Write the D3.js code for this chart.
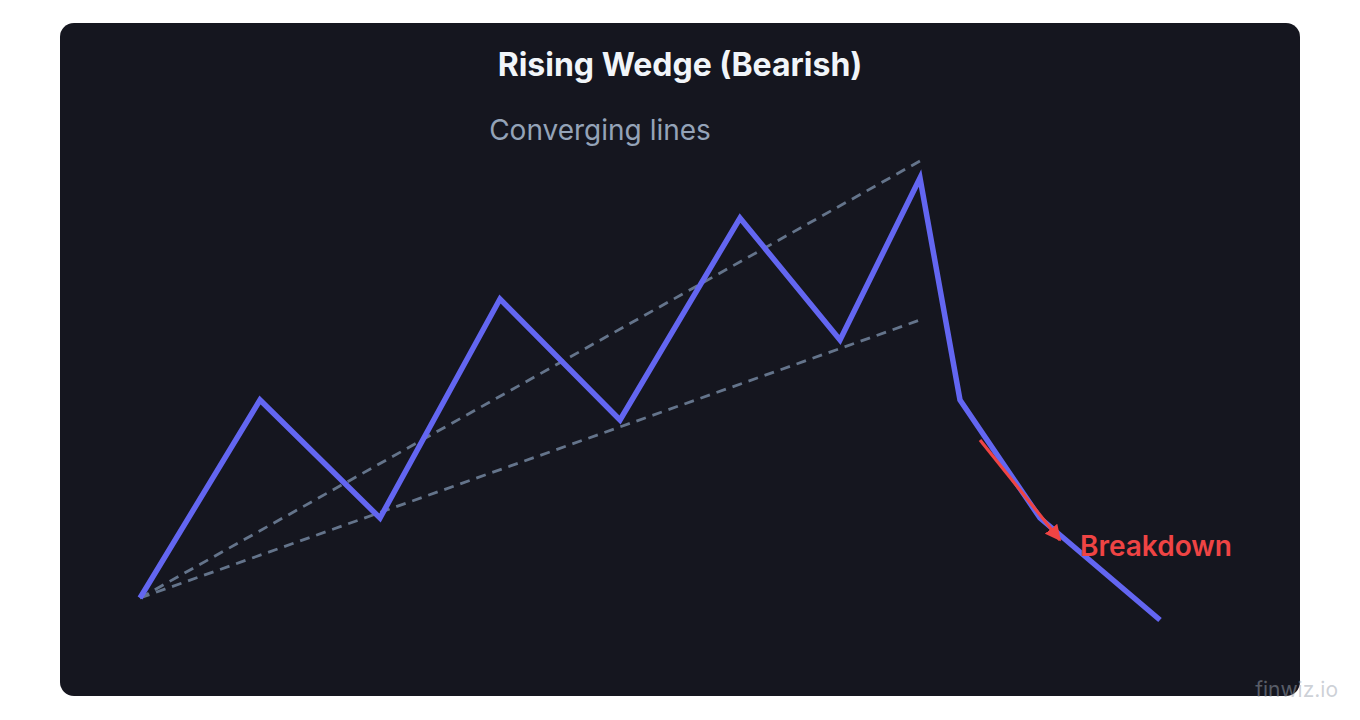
<!DOCTYPE html>
<html>
<head>
<meta charset="utf-8">
<script src="https://cdn.jsdelivr.net/npm/d3@7"></script>
<style>
  html, body { margin: 0; padding: 0; background: #ffffff; }
  svg { display: block; font-family: Inter, "Noto Sans", sans-serif; }
</style>
</head>
<body>
<script>
// price path (time, price)
var times  = [0, 12, 24, 36, 48, 60, 70, 78, 82, 90, 102];
var prices = [8, 47.6, 24, 67.8, 43.6, 84, 59.6, 92, 47.6, 24, 3.6];

// wedge trendlines: [t0, p0, t1, p1]
var upperLine = [0, 8, 78, 95.4];
var lowerLine = [0, 8, 78, 63.6];

// breakdown arrow
var arrowFrom = [84, 39.6];
var arrowTo   = [92, 19.6];

var title = "Rising Wedge (Bearish)";
var noteText = "Converging lines";
var breakText = "Breakdown";

var width = 1360,
    height = 720,
    panelX = 60,
    panelY = 23,
    panelW = 1240,
    panelH = 673
;

var svg = d3.select("body").append("svg")
    .attr("width", width)
    .attr("height", height)
;

svg.append("defs").append("marker")
    .attr("id", "arrow")
    .attr("viewBox", "0 0 10 10")
    .attr("refX", 9)
    .attr("refY", 5)
    .attr("markerWidth", 5)
    .attr("markerHeight", 5)
    .attr("markerUnits", "strokeWidth")
    .attr("orient", "auto")
    .append("path")
    .attr("d", "M0,0 L10,5 L0,10 Z")
    .attr("fill", "#ef4444")
;

// panel
svg.append("rect")
    .attr("x", panelX)
    .attr("y", panelY)
    .attr("width", panelW)
    .attr("height", panelH)
    .attr("rx", 14)
    .attr("fill", "#15161f")
;

var x = d3.scaleLinear()
    .domain([0, 102])
    .range([140, 1160])
;

var y = d3.scaleLinear()
    .domain([0, 100])
    .range([638, 138])
;

// title
svg.append("text")
    .attr("x", panelX + panelW / 2)
    .attr("y", 76)
    .attr("text-anchor", "middle")
    .attr("font-size", 32)
    .attr("font-weight", 700)
    .attr("fill", "#f1f5f9")
    .text(title)
;

// trendlines
[upperLine, lowerLine].forEach(function(l) {
    svg.append("line")
        .attr("x1", x(l[0]))
        .attr("y1", y(l[1]))
        .attr("x2", x(l[2]))
        .attr("y2", y(l[3]))
        .attr("stroke", "#64748b")
        .attr("stroke-width", 2.8)
        .attr("stroke-dasharray", "10,7")
    ;
});

// price line
var line = d3.line()
    .x(function(d, i) { return x(times[i]); })
    .y(function(d) { return y(d); })
;

svg.append("path")
    .datum(prices)
    .attr("d", line)
    .attr("fill", "none")
    .attr("stroke", "#6366f1")
    .attr("stroke-width", 5.5)
    .attr("stroke-linejoin", "miter")
;

// breakdown arrow
svg.append("line")
    .attr("x1", x(arrowFrom[0]))
    .attr("y1", y(arrowFrom[1]))
    .attr("x2", x(arrowTo[0]))
    .attr("y2", y(arrowTo[1]))
    .attr("stroke", "#ef4444")
    .attr("stroke-width", 3.2)
    .attr("marker-end", "url(#arrow)")
;

svg.append("text")
    .attr("x", x(94))
    .attr("y", y(16.4))
    .attr("font-size", 28)
    .attr("font-weight", 600)
    .attr("fill", "#ef4444")
    .text(breakText)
;

svg.append("text")
    .attr("x", x(46))
    .attr("y", y(99.6))
    .attr("text-anchor", "middle")
    .attr("font-size", 28)
    .attr("fill", "#94a3b8")
    .text(noteText)
;

// watermark
svg.append("text")
    .attr("x", 1338)
    .attr("y", 697)
    .attr("text-anchor", "end")
    .attr("font-size", 21)
    .attr("fill", "#9ca3af")
    .attr("fill-opacity", 0.5)
    .text("finwiz.io")
;
</script>
</body>
</html>
